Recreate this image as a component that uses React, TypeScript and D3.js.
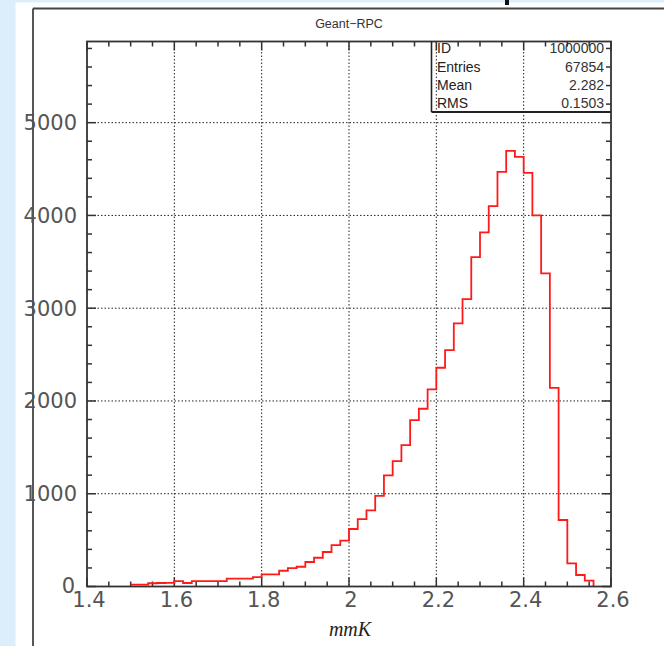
import React from "react";
import * as d3 from "d3";

// Histogram bins (lower edges) and counts
const binLows = [
  1.50, 1.52, 1.54, 1.56, 1.58, 1.60, 1.62, 1.64, 1.66, 1.68,
  1.70, 1.72, 1.74, 1.76, 1.78, 1.80, 1.82, 1.84, 1.86, 1.88,
  1.90, 1.92, 1.94, 1.96, 1.98, 2.00, 2.02, 2.04, 2.06, 2.08,
  2.10, 2.12, 2.14, 2.16, 2.18, 2.20, 2.22, 2.24, 2.26, 2.28,
  2.30, 2.32, 2.34, 2.36, 2.38, 2.40, 2.42, 2.44, 2.46, 2.48,
  2.50, 2.52, 2.54,
];
const binWidth = 0.02;
const counts = [
  20, 20, 35, 38, 40, 59, 38, 59, 59, 59,
  59, 84, 84, 84, 102, 131, 131, 170, 199, 213,
  264, 310, 372, 447, 494, 620, 727, 821, 978, 1198,
  1352, 1525, 1794, 1916, 2125, 2358, 2548, 2836, 3098, 3551,
  3817, 4100, 4470, 4696, 4631, 4459, 4000, 3375, 2142, 717,
  250, 124, 63,
];

const xTickLabels = ["1.4", "1.6", "1.8", "2", "2.2", "2.4", "2.6"];
const xMajorTicks = [1.4, 1.6, 1.8, 2.0, 2.2, 2.4, 2.6];
const yMajorTicks = [0, 1000, 2000, 3000, 4000, 5000];
const yTickLabels = ["0", "1000", "2000", "3000", "4000", "5000"];
const xDomain = [1.4, 2.6];
const yDomain = [0, 5875];

const title = "Geant\u2212RPC";
const xTitle = "mmK";
const statLabels = ["ID", "Entries", "Mean", "RMS"];
const statValues = ["1000000", "67854", "2.282", "0.1503"];

export default function App() {
  const W = 664;
  const H = 646;
  const left = 87, right = 611, top = 41.5, bottom = 586.5;

  const x = d3.scaleLinear().domain(xDomain).range([left, right]);
  const y = d3.scaleLinear().domain(yDomain).range([bottom, top]);

  const xMinor = d3.range(0, 25).map((i) => 1.4 + i * 0.05).filter((v) => !xMajorTicks.some((m) => Math.abs(m - v) < 1e-6));
  const yMinor = d3.range(0, 30).map((i) => i * 200).filter((v) => v % 1000 !== 0);

  const pts: [number, number][] = binLows.map((lo, i) => [lo, counts[i]]);
  const lastHi = binLows[binLows.length - 1] + binWidth;
  pts.push([lastHi, 0]);
  const line = d3
    .line<[number, number]>()
    .x((d) => x(d[0]))
    .y((d) => y(d[1]))
    .curve(d3.curveStepAfter);
  const pathD = line(pts) || "";

  const axisColor = "#333";
  const majorLen = 9;
  const minorLen = 5;
  const tickFont = "'DejaVu Sans', sans-serif";

  const boxLeft = 431.5;
  const boxBottom = 112;
  const rowBase = [53, 71.5, 89.5, 107.5];

  return (
    <svg
      width={W}
      height={H}
      style={{ position: "absolute", left: 0, top: 0, display: "block" }}
    >
      {/* page background */}
      <rect x={0} y={0} width={W} height={H} fill="#ffffff" />
      <rect x={0} y={0} width={15.5} height={H} fill="#dcedfc" />
      <rect x={0} y={0} width={W} height={2.5} fill="#dcedfc" />
      <rect x={505} y={0} width={4} height={5} fill="#111" />

      {/* outer frame */}
      <line x1={33} y1={8.5} x2={W} y2={8.5} stroke="#444" strokeWidth={1.8} />
      <line x1={33} y1={8.5} x2={33} y2={H} stroke="#444" strokeWidth={1.8} />

      {/* title */}
      <text
        x={(left + right) / 2}
        y={28}
        textAnchor="middle"
        fontFamily="'Liberation Sans', Arial, sans-serif"
        fontSize={12.5}
        fill="#333"
      >
        {title}
      </text>

      {/* grid */}
      {xMajorTicks.slice(1, -1).map((v) => (
        <line
          key={"gx" + v}
          x1={x(v)}
          x2={x(v)}
          y1={top}
          y2={bottom}
          stroke="#222"
          strokeWidth={1}
          strokeDasharray="1.5,2"
        />
      ))}
      {yMajorTicks.slice(1).map((v) => (
        <line
          key={"gy" + v}
          x1={left}
          x2={right}
          y1={y(v)}
          y2={y(v)}
          stroke="#222"
          strokeWidth={1}
          strokeDasharray="1.5,2"
        />
      ))}

      {/* ticks */}
      {xMajorTicks.map((v) => (
        <g key={"xt" + v}>
          <line x1={x(v)} x2={x(v)} y1={bottom} y2={bottom - majorLen} stroke={axisColor} strokeWidth={1.5} />
          <line x1={x(v)} x2={x(v)} y1={top} y2={top + majorLen} stroke={axisColor} strokeWidth={1.5} />
        </g>
      ))}
      {xMinor.map((v) => (
        <g key={"xm" + v}>
          <line x1={x(v)} x2={x(v)} y1={bottom} y2={bottom - minorLen} stroke={axisColor} strokeWidth={1.5} />
          <line x1={x(v)} x2={x(v)} y1={top} y2={top + minorLen} stroke={axisColor} strokeWidth={1.5} />
        </g>
      ))}
      {yMajorTicks.map((v) => (
        <g key={"yt" + v}>
          <line x1={left} x2={left + majorLen} y1={y(v)} y2={y(v)} stroke={axisColor} strokeWidth={1.5} />
          <line x1={right} x2={right - majorLen} y1={y(v)} y2={y(v)} stroke={axisColor} strokeWidth={1.5} />
        </g>
      ))}
      {yMinor.map((v) => (
        <g key={"ym" + v}>
          <line x1={left} x2={left + minorLen} y1={y(v)} y2={y(v)} stroke={axisColor} strokeWidth={1.5} />
          <line x1={right} x2={right - minorLen} y1={y(v)} y2={y(v)} stroke={axisColor} strokeWidth={1.5} />
        </g>
      ))}

      {/* histogram */}
      <path d={pathD} fill="none" stroke="#ff1a1a" strokeWidth={1.8} />

      {/* plot frame */}
      <rect
        x={left}
        y={top}
        width={right - left}
        height={bottom - top}
        fill="none"
        stroke={axisColor}
        strokeWidth={1.8}
      />

      {/* stats box */}
      <line x1={boxLeft} x2={boxLeft} y1={top} y2={boxBottom} stroke="#222" strokeWidth={1.6} />
      <line x1={boxLeft} x2={right} y1={boxBottom} y2={boxBottom} stroke="#222" strokeWidth={1.8} />
      {statLabels.map((s, i) => (
        <text
          key={"sl" + s}
          x={437}
          y={rowBase[i]}
          fontFamily="'Liberation Sans', Arial, sans-serif"
          fontSize={14}
          fill="#222"
        >
          {s}
        </text>
      ))}
      {statValues.map((s, i) => (
        <text
          key={"sv" + s}
          x={604}
          y={rowBase[i]}
          textAnchor="end"
          fontFamily="'Liberation Sans', Arial, sans-serif"
          fontSize={14}
          fill="#333"
        >
          {s}
        </text>
      ))}

      {/* y tick labels */}
      {yMajorTicks.map((v, i) => (
        <text
          key={"yl" + v}
          x={v === 0 ? 75 : 77}
          y={y(v) + 7.5 - (v === 0 ? 1 : 0)}
          textAnchor="end"
          fontFamily={tickFont}
          fontSize={21}
          fill="#555"
        >
          {yTickLabels[i]}
        </text>
      ))}

      {/* x tick labels */}
      {xMajorTicks.map((v, i) => (
        <text
          key={"xl" + v}
          x={x(v) + 2}
          y={607}
          textAnchor="middle"
          fontFamily={tickFont}
          fontSize={21}
          fill="#555"
        >
          {xTickLabels[i]}
        </text>
      ))}

      {/* x title */}
      <text
        x={350}
        y={636}
        textAnchor="middle"
        fontFamily="'Liberation Serif', 'Times New Roman', serif"
        fontStyle="italic"
        fontSize={20}
        fill="#222"
      >
        {xTitle}
      </text>
    </svg>
  );
}
